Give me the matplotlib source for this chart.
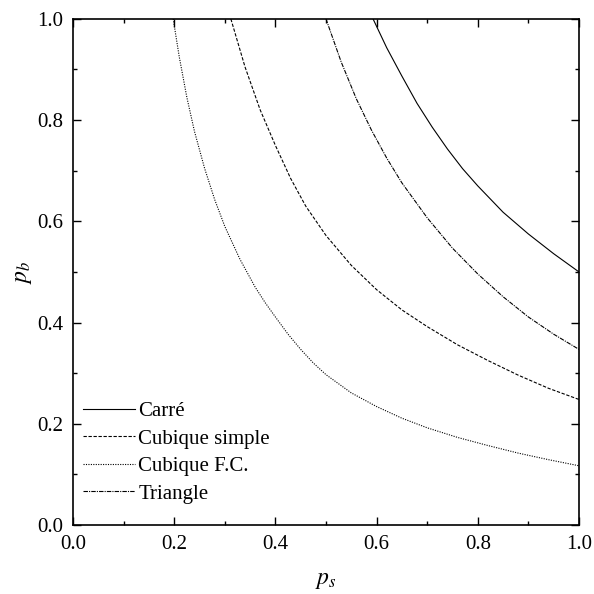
import matplotlib
matplotlib.use("Agg")
import matplotlib.pyplot as plt
from matplotlib.ticker import MultipleLocator

plt.rcParams['font.family'] = ['Liberation Serif', 'DejaVu Serif']
plt.rcParams['mathtext.fontset'] = 'stix'

# seuils site-lien
carre_ps = [0.593, 0.62, 0.65, 0.68, 0.71, 0.74, 0.77, 0.80, 0.85, 0.90, 0.95, 1.0]
carre_pb = [1.0, 0.943, 0.887, 0.833, 0.786, 0.743, 0.704, 0.670, 0.618, 0.575, 0.536, 0.5]

cs_ps = [0.312, 0.34, 0.37, 0.40, 0.43, 0.46, 0.50, 0.55, 0.60, 0.65, 0.70, 0.76, 0.82, 0.88, 0.94, 1.0]
cs_pb = [1.0, 0.905, 0.820, 0.750, 0.685, 0.630, 0.572, 0.513, 0.465, 0.425, 0.392, 0.356,
         0.325, 0.296, 0.270, 0.248]

cfc_ps = [0.198, 0.21, 0.225, 0.24, 0.26, 0.28, 0.30, 0.33, 0.36, 0.38, 0.40, 0.425, 0.45,
          0.475, 0.50, 0.55, 0.60, 0.65, 0.70, 0.76, 0.82, 0.88, 0.94, 1.0]
cfc_pb = [1.0, 0.925, 0.845, 0.778, 0.705, 0.643, 0.590, 0.525, 0.470, 0.439, 0.411, 0.377,
          0.347, 0.320, 0.297, 0.261, 0.234, 0.211, 0.192, 0.173, 0.157, 0.142, 0.129, 0.117]

tri_ps = [0.5, 0.53, 0.56, 0.59, 0.62, 0.65, 0.70, 0.75, 0.80, 0.85, 0.90, 0.95, 1.0]
tri_pb = [1.0, 0.915, 0.842, 0.780, 0.725, 0.676, 0.607, 0.547, 0.496, 0.451, 0.411, 0.377, 0.347]

fig = plt.figure(figsize=(5.94, 5.94), dpi=100)
ax = fig.add_axes([0.1229, 0.1162, 0.8518, 0.852])

lw = 0.8
ax.plot(carre_ps, carre_pb, color='black', lw=lw, ls='-', label='Carré')
ax.plot(cs_ps, cs_pb, color='black', lw=lw, ls=(0, (3, 1.5)), label='Cubique simple')
ax.plot(cfc_ps, cfc_pb, color='black', lw=lw, ls=(0, (1, 1.2)), label='Cubique F.C.')
ax.plot(tri_ps, tri_pb, color='black', lw=lw, ls=(0, (4, 1, 1, 1)), label='Triangle')

ax.set_xlim(0, 1)
ax.set_ylim(0, 1)
ax.xaxis.set_major_locator(MultipleLocator(0.2))
ax.xaxis.set_minor_locator(MultipleLocator(0.1))
ax.yaxis.set_major_locator(MultipleLocator(0.2))
ax.yaxis.set_minor_locator(MultipleLocator(0.1))
ax.xaxis.set_major_formatter(plt.FormatStrFormatter('%.1f'))
ax.yaxis.set_major_formatter(plt.FormatStrFormatter('%.1f'))
ax.tick_params(which='both', direction='in', top=True, right=True, labelsize=15, width=1)
ax.tick_params(which='major', length=6, pad=7)
ax.tick_params(which='minor', length=3)
for s in ax.spines.values():
    s.set_linewidth(1.2)

ax.set_xlabel(r'$p_s$', fontsize=17, labelpad=12)
ax.set_ylabel(r'$p_b$', fontsize=17, labelpad=2)

ax.legend(loc='lower left', frameon=False, fontsize=15, handlelength=2.5,
          handletextpad=0.15, labelspacing=0.38, borderaxespad=0, borderpad=0,
          bbox_to_anchor=(0.02, 0.042))

fig.savefig('out.png', dpi=100)
